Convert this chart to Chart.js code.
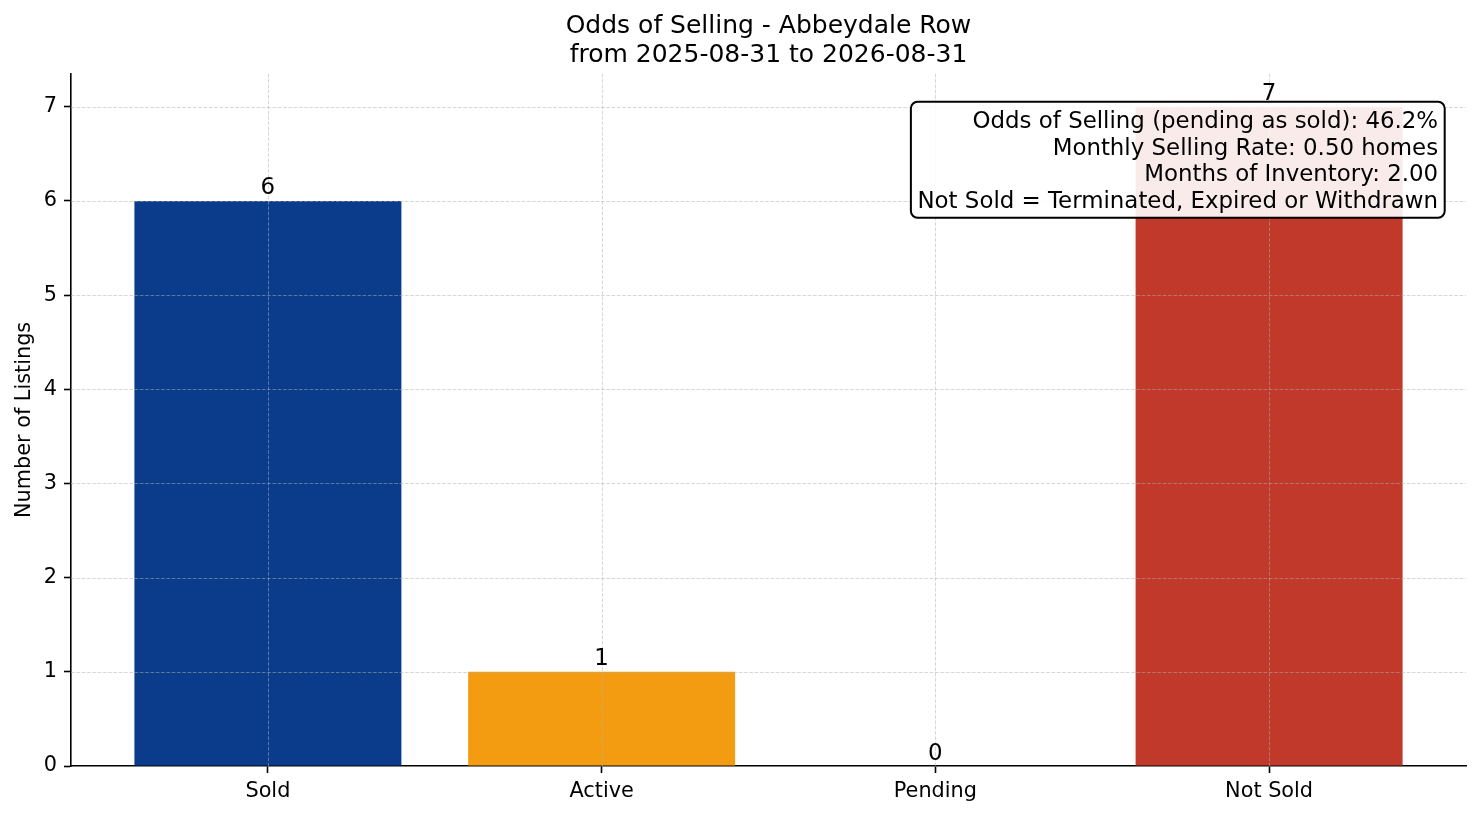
<!DOCTYPE html>
<html>
<head>
<meta charset="utf-8">
<title>Odds of Selling - Abbeydale Row</title>
<script src="https://cdn.jsdelivr.net/npm/chart.js@4"></script>
<style>
  html, body { margin: 0; padding: 0; background: #fff; }
  #chart { display: block; }
</style>
</head>
<body>
<canvas id="chart" width="1481" height="816"></canvas>
<script>
// Data
const categories = ['Sold', 'Active', 'Pending', 'Not Sold'];
const counts = [6, 1, 0, 7];
const yTicks = [0, 1, 2, 3, 4, 5, 6, 7];
const titleLines = ['Odds of Selling - Abbeydale Row', 'from 2025-08-31 to 2026-08-31'];
const infoLines = [
    'Odds of Selling (pending as sold): 46.2%',
    'Monthly Selling Rate: 0.50 homes',
    'Months of Inventory: 2.00',
    'Not Sold = Terminated, Expired or Withdrawn'
];

// Styles
const barColors = ['#0b3c8c', '#f39c12', '#27ae60', '#c0392b'];
const FONT = 'DejaVu Sans';

Chart.defaults.font.family = FONT;
Chart.defaults.color = '#000';

// Grid above the bars, value labels and the info box
const overlay = {
    id: 'overlay',
    afterDatasetsDraw(chart) {
        const { ctx, chartArea: a, scales: { x, y } } = chart;
        ctx.save();

        // dashed grid drawn on top of the bars, like the original
        ctx.strokeStyle = 'rgba(176,176,176,0.5)';
        ctx.lineWidth = 1;
        ctx.setLineDash([3.7, 1.6]);
        x.ticks.forEach(t => {
            const px = Math.round(x.getPixelForValue(t.value)) + 0.5;
            ctx.beginPath();
            ctx.moveTo(px, a.top);
            ctx.lineTo(px, a.bottom);
            ctx.stroke();
        });
        y.ticks.forEach(t => {
            if (t.value === 0) return;
            const py = Math.round(y.getPixelForValue(t.value)) + 0.5;
            ctx.beginPath();
            ctx.moveTo(a.left, py);
            ctx.lineTo(a.right, py);
            ctx.stroke();
        });
        ctx.setLineDash([]);

        // value labels above each bar
        ctx.font = '22.9px ' + FONT;
        ctx.fillStyle = '#000';
        ctx.textAlign = 'center';
        ctx.textBaseline = 'alphabetic';
        chart.getDatasetMeta(0).data.forEach((bar, i) => {
            ctx.fillText(String(counts[i]), bar.x, bar.y - 6.5);
        });

        // info box in the upper right corner of the axes
        const pad = 6.6;
        const lineStep = 26.5;
        const anchorX = a.left + 0.98 * (a.right - a.left);
        const anchorY = a.bottom - 0.95 * (a.bottom - a.top);
        const textW = Math.max(...infoLines.map(s => ctx.measureText(s).width));
        const textH = lineStep * (infoLines.length - 1) + 23.2;
        const bx = anchorX - textW - pad;
        const by = anchorY - pad;
        const bw = textW + 2 * pad;
        const bh = textH + 2 * pad;

        ctx.beginPath();
        if (ctx.roundRect) {
            ctx.roundRect(bx, by, bw, bh, 6.6);
        } else {
            ctx.rect(bx, by, bw, bh);
        }
        ctx.fillStyle = 'rgba(255,255,255,0.9)';
        ctx.fill();
        ctx.lineWidth = 2;
        ctx.strokeStyle = '#000';
        ctx.stroke();

        ctx.fillStyle = '#000';
        ctx.textAlign = 'right';
        infoLines.forEach((s, i) => {
            ctx.fillText(s, anchorX, anchorY + 19.7 + i * lineStep);
        });

        ctx.restore();
    }
};

const tickFont = { family: FONT, size: 20.8 };

new Chart(document.getElementById('chart'), {
    type: 'bar',
    data: {
        datasets: [{
            data: categories.map((c, i) => ({ x: i, y: counts[i] })),
            backgroundColor: barColors,
            borderWidth: 0,
            barPercentage: 0.8,
            categoryPercentage: 1.0
        }]
    },
    options: {
        responsive: false,
        animation: false,
        devicePixelRatio: 1,
        layout: { padding: { left: 0, right: 15, top: 0, bottom: 0 } },
        plugins: {
            legend: { display: false },
            tooltip: { enabled: false },
            title: {
                display: true,
                text: titleLines,
                fullSize: false,
                color: '#000',
                font: { family: FONT, size: 25, weight: 'normal', lineHeight: 1.15 },
                padding: { top: 12, bottom: 4.3 }
            }
        },
        scales: {
            x: {
                type: 'linear',
                offset: false,
                min: -0.59,
                max: 3.59,
                afterBuildTicks: s => { s.ticks = categories.map((c, i) => ({ value: i })); },
                afterFit: s => { s.height = 50; },
                ticks: {
                    callback: v => categories[v],
                    font: tickFont,
                    color: '#000',
                    padding: 6.5,
                    autoSkip: false,
                    maxRotation: 0
                },
                grid: { offset: false, drawOnChartArea: false, drawTicks: true, tickLength: 7, tickColor: '#000', tickWidth: 1.6 },
                border: { display: true, color: '#000', width: 1.6 }
            },
            y: {
                min: 0,
                max: 7.35,
                afterBuildTicks: s => { s.ticks = yTicks.map(v => ({ value: v })); },
                afterFit: s => { s.width = 71; },
                ticks: { font: tickFont, color: '#000', padding: 7, includeBounds: false },
                title: {
                    display: true,
                    text: 'Number of Listings',
                    color: '#000',
                    font: { family: FONT, size: 20.8 },
                    padding: { top: 12.5, bottom: 0 }
                },
                grid: { drawOnChartArea: false, drawTicks: true, tickLength: 7, tickColor: '#000', tickWidth: 1.6 },
                border: { display: true, color: '#000', width: 1.6 }
            }
        }
    },
    plugins: [overlay]
});
</script>
</body>
</html>
